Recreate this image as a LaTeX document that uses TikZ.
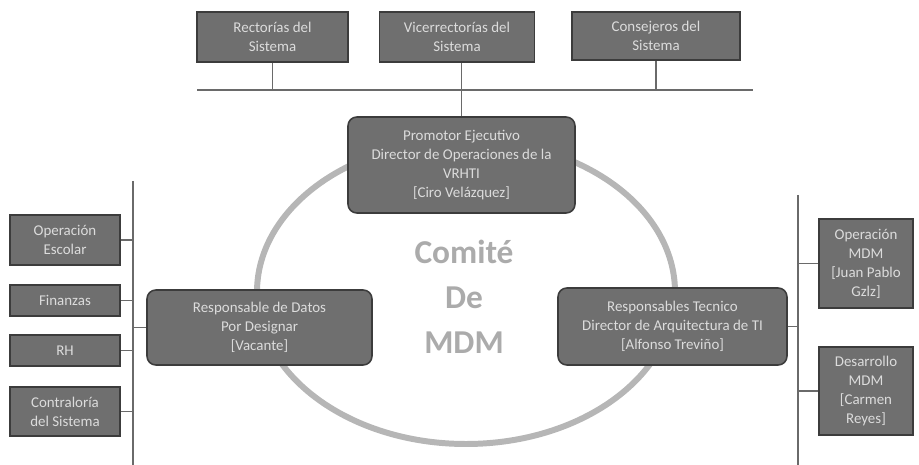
\documentclass[tikz,border=0pt]{standalone}
\usepackage{fontspec}
\setmainfont{Carlito}
\usepackage{tikz}
\usetikzlibrary{positioning}

\definecolor{relleno}{HTML}{6F6F6F}
\definecolor{borde}{HTML}{3C3C3C}
\definecolor{texto}{HTML}{DCDCDC}
\definecolor{linea}{HTML}{6A6A6A}
\definecolor{anillo}{HTML}{B6B6B6}
\definecolor{titulo}{HTML}{ABABAB}

\begin{document}
\begin{tikzpicture}[
    x=0.02cm, y=-0.02cm,
    % Estilo de las cajas
    caja/.style={rectangle, draw=borde, fill=relleno, line width=0.9pt, text=texto,
        align=center, inner sep=1pt, font=\fontsize{8.5}{10.8}\selectfont},
    cajar/.style={caja, rounded corners=5pt},
    conector/.style={draw=linea, line width=1pt}
]
    \useasboundingbox (0,0) rectangle (919,465);

    % Anillo del comite
    \draw[anillo, line width=3.4pt] (466,292) ellipse [x radius=209, y radius=152];
    \node[text=titulo, font=\fontsize{19}{25.5}\selectfont\bfseries, align=center] (comite) at (464,297) {Comité\\De\\MDM};

    % Nodos superiores
    \node[caja, minimum width=3.02cm, minimum height=1cm] (rect) at (272.5,37) {Rectorías del\\Sistema};
    \node[caja, minimum width=3.1cm, minimum height=1cm] (vice) at (457,37) {Vicerrectorías del\\Sistema};
    \node[caja, minimum width=3.36cm, minimum height=0.96cm] (cons) at (656,36) {Consejeros del\\Sistema};

    % Nodos centrales
    \node[cajar, minimum width=4.54cm, minimum height=1.92cm] (prom) at (461.5,165)
        {Promotor Ejecutivo\\Director de Operaciones de la\\VRHTI\\{[}Ciro Velázquez{]}};
    \node[cajar, minimum width=4.5cm, minimum height=1.5cm] (datos) at (259.5,327.5)
        {Responsable de Datos\\Por Designar\\{[}Vacante{]}};
    \node[cajar, minimum width=4.58cm, minimum height=1.54cm] (tec) at (672.5,326.5)
        {Responsables Tecnico\\Director de Arquitectura de TI\\{[}Alfonso Treviño{]}};

    % Nodos de la izquierda
    \node[caja, minimum width=2.2cm, minimum height=1cm] (esc) at (65,240) {Operación\\Escolar};
    \node[caja, minimum width=2.2cm, minimum height=0.62cm] (fin) at (65,300.5) {Finanzas};
    \node[caja, minimum width=2.2cm, minimum height=0.62cm] (rh) at (65,350.5) {RH};
    \node[caja, minimum width=2.2cm, minimum height=0.98cm] (contr) at (65,411.5) {Contraloría\\del Sistema};

    % Nodos de la derecha
    \node[caja, minimum width=1.88cm, minimum height=1.78cm] (opm) at (866,263.5) {Operación\\MDM\\{[}Juan Pablo\\Gzlz{]}};
    \node[caja, minimum width=1.88cm, minimum height=1.76cm] (desm) at (866,391) {Desarrollo\\MDM\\{[}Carmen\\Reyes{]}};

    % Puntos de las lineas
    \coordinate (busL) at (197,90);
    \coordinate (busR) at (753,90);
    \coordinate (izqA) at (133,181);
    \coordinate (izqB) at (133,465);
    \coordinate (derA) at (798,195);
    \coordinate (derB) at (798,465);

    % Lineas superiores
    \draw[conector] (busL) -- (busR);
    \draw[conector] (rect.south) -- (rect.south |- busL);
    \draw[conector] (prom.north |- vice.south) -- (prom.north);
    \draw[conector] (cons.south) -- (cons.south |- busL);

    % Lineas de la izquierda
    \draw[conector] (izqA) -- (izqB);
    \foreach \n in {esc, fin, rh, contr}
        \draw[conector] (\n.east) -- (\n.east -| izqA);
    \draw[conector] (datos.west) -- (datos.west -| izqA);

    % Lineas de la derecha
    \draw[conector] (derA) -- (derB);
    \foreach \n in {opm, desm}
        \draw[conector] (\n.west) -- (\n.west -| derA);
    \draw[conector] (tec.east) -- (tec.east -| derA);

\end{tikzpicture}
\end{document}
